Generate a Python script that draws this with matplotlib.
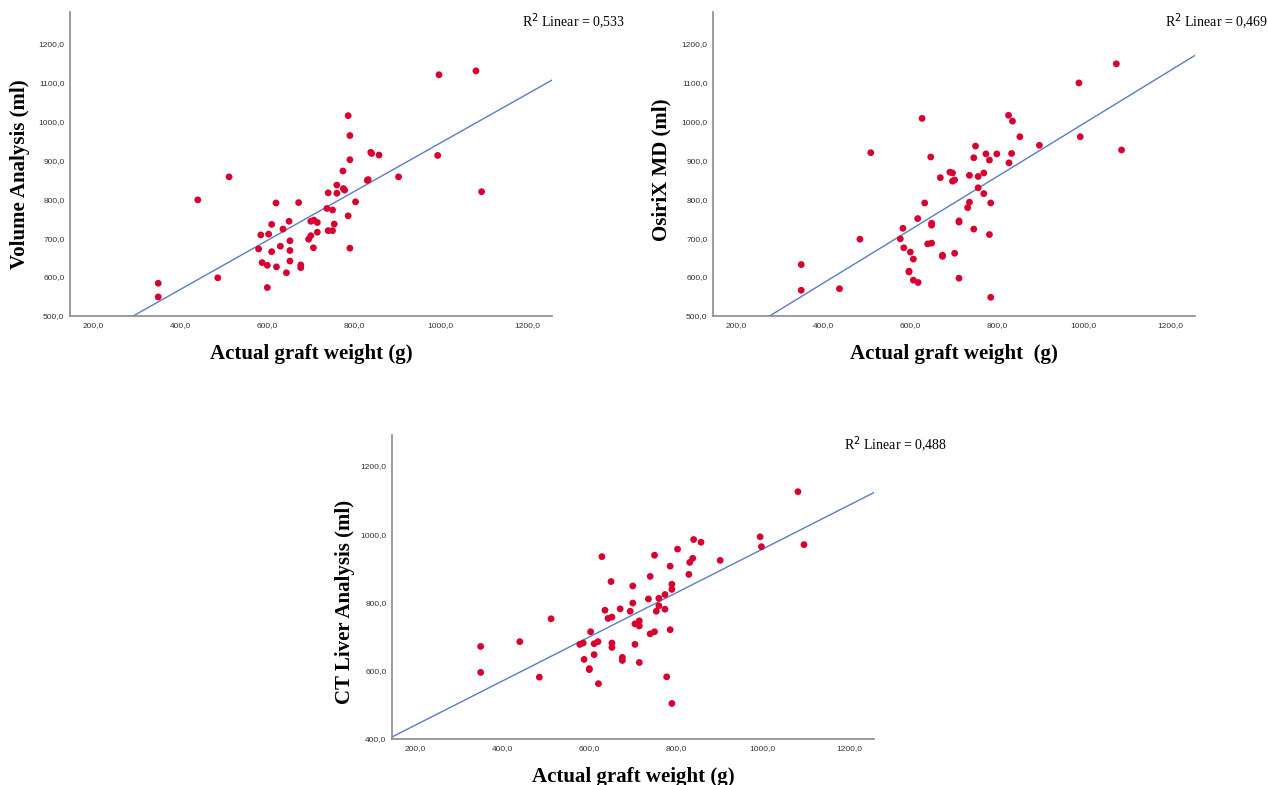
import numpy as np
import matplotlib.pyplot as plt

# actual graft weight (g) vs. volume estimates (ml)
vol_x = [350, 350, 441, 487, 513, 581, 586, 589, 601, 601, 604, 611, 611, 621, 622,
         631, 637, 645, 651, 653, 653, 653, 673, 678, 678, 696, 701, 701, 707, 708,
         716, 716, 738, 741, 741, 751, 751, 755, 761, 761, 775, 776, 779, 787, 787,
         791, 791, 791, 804, 831, 833, 839, 841, 858, 903, 993, 996, 1081, 1094]
vol_y = [584, 549, 798, 598, 857, 672, 708, 637, 630, 573, 710, 735, 665, 790, 626,
         679, 723, 611, 743, 693, 668, 641, 791, 631, 624, 697, 706, 743, 675, 746,
         740, 715, 776, 816, 719, 772, 719, 736, 836, 815, 872, 827, 823, 1014, 757,
         963, 901, 674, 793, 848, 850, 920, 917, 913, 857, 912, 1119, 1129, 819]

osx_x = [350, 350, 438, 485, 510, 578, 584, 586, 598, 598, 601, 608, 608, 618, 619,
         628, 634, 641, 648, 650, 650, 650, 670, 675, 675, 692, 698, 698, 703, 703,
         713, 713, 713, 733, 737, 737, 747, 747, 751, 757, 757, 770, 770, 775, 783,
         783, 786, 786, 800, 827, 828, 834, 836, 853, 898, 989, 992, 1075, 1087]
osx_y = [632, 566, 570, 697, 919, 698, 725, 675, 615, 613, 664, 646, 592, 750, 586,
         1007, 790, 685, 908, 738, 733, 687, 855, 656, 653, 869, 867, 846, 849, 661,
         744, 741, 597, 778, 792, 861, 723, 906, 936, 858, 829, 867, 814, 916, 900,
         709, 790, 548, 916, 1015, 893, 917, 1000, 960, 938, 1098, 960, 1147, 926]

ct_x = [351, 351, 441, 486, 513, 579, 587, 589, 601, 601, 604, 612, 612, 621, 622,
        630, 637, 644, 651, 653, 653, 653, 672, 677, 677, 695, 701, 701, 706, 706,
        716, 716, 716, 737, 741, 741, 751, 751, 755, 761, 761, 775, 775, 779, 787,
        787, 791, 791, 791, 804, 830, 832, 839, 841, 858, 902, 994, 997, 1081, 1095]
ct_y = [671, 595, 685, 581, 752, 677, 681, 633, 606, 603, 714, 679, 647, 685, 562,
        934, 777, 753, 861, 757, 681, 668, 781, 639, 630, 774, 798, 848, 737, 677,
        746, 731, 624, 810, 876, 708, 938, 714, 774, 812, 790, 823, 780, 582, 906,
        720, 853, 838, 504, 956, 882, 917, 929, 984, 976, 923, 992, 963, 1124, 969]

panels = [
    dict(x=vol_x, y=vol_y, ylabel="Volume Analysis (ml)", xlabel="Actual graft weight (g)",
         r2="0,533", ylim=(500, 1280), yticks=np.arange(500, 1201, 100),
         rect=(70, 12, 552, 316), ylab_x=-0.083, ylab_y=0.468),
    dict(x=osx_x, y=osx_y, ylabel="OsiriX MD (ml)", xlabel="Actual graft weight  (g)",
         r2="0,469", ylim=(500, 1280), yticks=np.arange(500, 1201, 100),
         rect=(713, 12, 1195, 316), ylab_x=-0.086, ylab_y=0.48),
    dict(x=ct_x, y=ct_y, ylabel="CT Liver Analysis (ml)", xlabel="Actual graft weight (g)",
         r2="0,488", ylim=(400, 1290), yticks=np.arange(400, 1201, 200),
         rect=(392, 435, 874, 739), ylab_x=-0.077, ylab_y=0.45),
]

W, H = 1268, 785
fig = plt.figure(figsize=(W / 100, H / 100), dpi=100)
serif = "Liberation Serif"
sans = "Liberation Sans"

for p in panels:
    l, t, r, b = p["rect"]
    ax = fig.add_axes([l / W, 1 - b / H, (r - l) / W, (b - t) / H])
    xlim = (147, 1256)
    ax.set_xlim(xlim)
    ax.set_ylim(p["ylim"])

    ax.scatter(p["x"], p["y"], s=24, color="#d80030", edgecolors="none", zorder=3)

    # linear fit line across the whole x range
    slope, icpt = np.polyfit(p["x"], p["y"], 1)
    xs = np.array(xlim)
    ax.plot(xs, icpt + slope * xs, color="#5b7bc4", lw=1.0, zorder=2)

    for s in ["top", "right"]:
        ax.spines[s].set_visible(False)
    for s in ["left", "bottom"]:
        ax.spines[s].set_color("#8a8a8a")
        ax.spines[s].set_linewidth(1.2)

    ax.set_xticks(np.arange(200, 1201, 200))
    ax.set_yticks(p["yticks"])
    ax.set_xticklabels([f"{v:.1f}".replace(".", ",") for v in np.arange(200, 1201, 200)])
    ax.set_yticklabels([f"{v:.1f}".replace(".", ",") for v in p["yticks"]])
    ax.tick_params(length=0, labelsize=6, labelcolor="#333333", pad=4)
    for lab in ax.get_xticklabels() + ax.get_yticklabels():
        lab.set_fontfamily(sans)

    ax.set_xlabel(p["xlabel"], fontfamily=serif, fontweight="bold", fontsize=15)
    ax.xaxis.set_label_coords(0.5, -0.092)
    ax.set_ylabel(p["ylabel"], fontfamily=serif, fontweight="bold", fontsize=15)
    ax.yaxis.set_label_coords(p["ylab_x"], p["ylab_y"])

    ax.text(0.937, 0.968, "R$^2$ Linear = " + p["r2"], transform=ax.transAxes,
            ha="left", va="center", fontsize=10, fontfamily=serif, clip_on=False)

fig.savefig("out.png", dpi=100)
